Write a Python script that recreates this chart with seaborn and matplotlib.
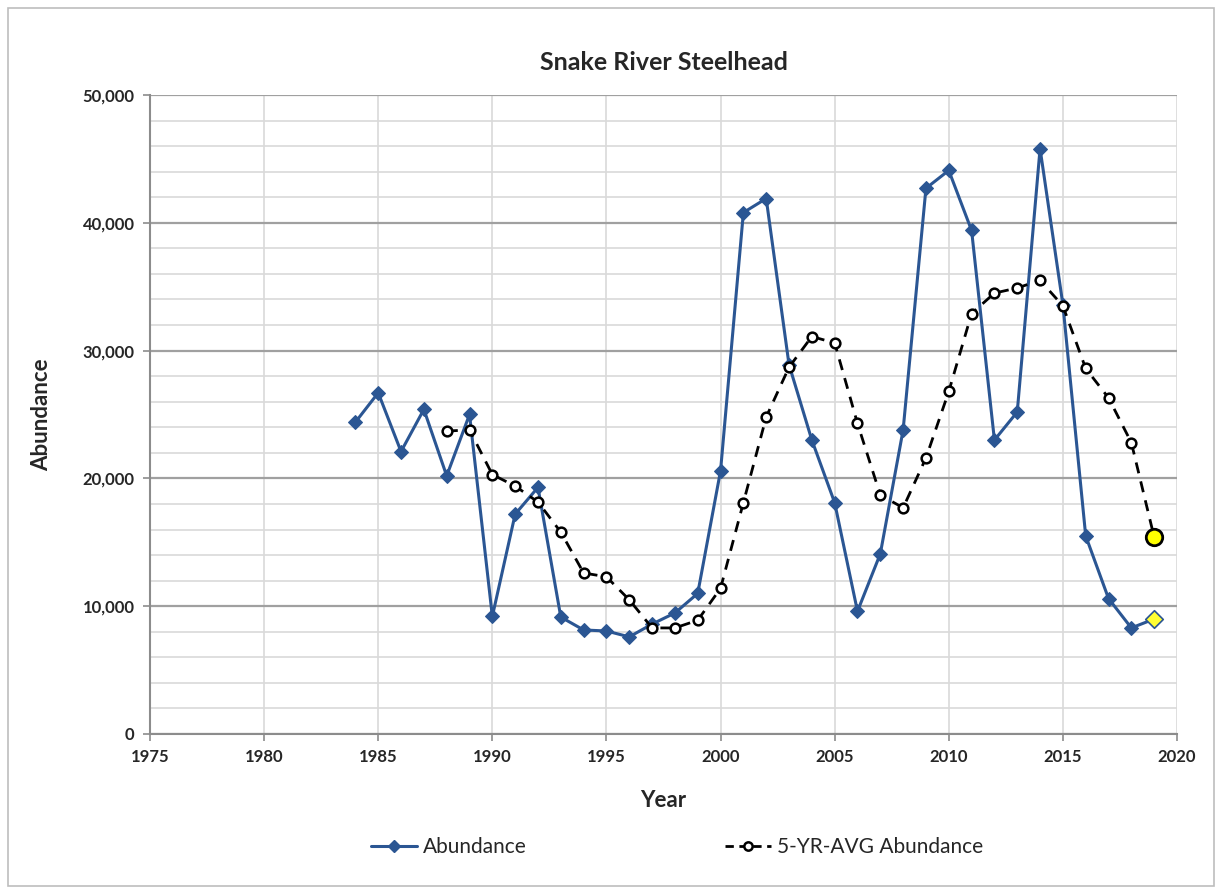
import numpy as np
import pandas as pd
import seaborn as sns
import matplotlib.pyplot as plt
from matplotlib.lines import Line2D
from matplotlib.patches import Rectangle
from matplotlib.ticker import FuncFormatter, MultipleLocator

# Data
years = list(range(1984, 2020))
abundance = [24400, 26700, 22100, 25400, 20200, 25000, 9200, 17200, 19300, 9150,
             8140, 8060, 7600, 8600, 9470, 11000, 20600, 40800, 41900, 28900,
             23000, 18100, 9600, 14100, 23800, 42700, 44100, 39400, 23000, 25200,
             45800, 33600, 15500, 10600, 8300, 9000]
avg_years = list(range(1988, 2020))
avg_abundance = [23700, 23800, 20300, 19400, 18150, 15800, 12600, 12300, 10500, 8300,
                 8300, 8900, 11400, 18100, 24800, 28700, 31100, 30600, 24300, 18700,
                 17700, 21600, 26800, 32900, 34500, 34900, 35500, 33500, 28600, 26300,
                 22800, 15400]

sns.set_theme(style="white")
plt.rcParams["font.family"] = ["Lato", "DejaVu Sans"]

blue = "#2B5693"
df = pd.DataFrame({"Year": years, "Abundance": abundance})
df_avg = pd.DataFrame({"Year": avg_years, "Avg": avg_abundance})

fig = plt.figure(figsize=(12.21, 8.92), dpi=100)
ax = fig.add_axes([150 / 1221, 1 - 734 / 892, 1027 / 1221, 639 / 892])

# grid
ax.set_xlim(1975, 2020)
ax.set_ylim(0, 50000)
ax.xaxis.set_major_locator(MultipleLocator(5))
ax.yaxis.set_major_locator(MultipleLocator(10000))
ax.yaxis.set_minor_locator(MultipleLocator(2000))
ax.grid(which="major", axis="x", color="#d9d9d9", lw=1.2)
ax.grid(which="minor", axis="y", color="#d9d9d9", lw=1.2)
ax.grid(which="major", axis="y", color="#a0a0a0", lw=1.6)
ax.set_axisbelow(True)

sns.lineplot(data=df, x="Year", y="Abundance", ax=ax, color=blue, lw=2.2,
             marker="D", markersize=7.5, markeredgecolor=blue, zorder=3)
sns.lineplot(data=df_avg, x="Year", y="Avg", ax=ax, color="black", lw=2,
             linestyle=(0, (4, 3)), marker="o", markersize=7,
             markerfacecolor="white", markeredgecolor="black", markeredgewidth=1.8, zorder=4)

# latest year highlighted in yellow
sns.scatterplot(x=[years[-1]], y=[abundance[-1]], ax=ax, marker="D", s=80,
                color="#FFFF33", edgecolor=blue, linewidth=1.2, zorder=5)
sns.scatterplot(x=[avg_years[-1]], y=[avg_abundance[-1]], ax=ax, marker="o", s=140,
                color="#FFFF00", edgecolor="black", linewidth=2, zorder=6)

for s in ["top", "right"]:
    ax.spines[s].set_visible(False)
for s in ["left", "bottom"]:
    ax.spines[s].set_color("#8c8c8c")
    ax.spines[s].set_linewidth(1.5)

ax.tick_params(axis="both", which="major", length=5, width=1.2, color="#8c8c8c",
               labelsize=12, pad=6, direction="out", left=True, bottom=True)
for lab in ax.get_xticklabels() + ax.get_yticklabels():
    lab.set_fontweight("bold")
ax.yaxis.set_major_formatter(FuncFormatter(lambda v, p: f"{int(v):,}"))

ax.set_title("Snake River Steelhead", fontsize=18, fontweight="bold", pad=18)
ax.set_xlabel("Year", fontsize=16, fontweight="bold", labelpad=18)
ax.set_ylabel("Abundance", fontsize=16, fontweight="bold", labelpad=22)

handles = [
    Line2D([], [], color=blue, lw=2.2, marker="D", markersize=6),
    Line2D([], [], color="black", lw=2, linestyle=(0, (3, 2)), marker="o", markersize=6,
           markerfacecolor="white", markeredgewidth=1.8),
]
fig.legend(handles, ["Abundance", "5-YR-AVG Abundance"], loc="center",
           bbox_to_anchor=(677 / 1221, 1 - 847 / 892), ncol=2, frameon=False,
           fontsize=15, columnspacing=9.5, handlelength=2.2, handletextpad=0.3)

fig.patches.append(Rectangle((8 / 1221, 6 / 892), 1206 / 1221, 878 / 892,
                             transform=fig.transFigure, fill=False,
                             edgecolor="#bdbdbd", lw=1.2))

fig.savefig("out.png", dpi=100)
